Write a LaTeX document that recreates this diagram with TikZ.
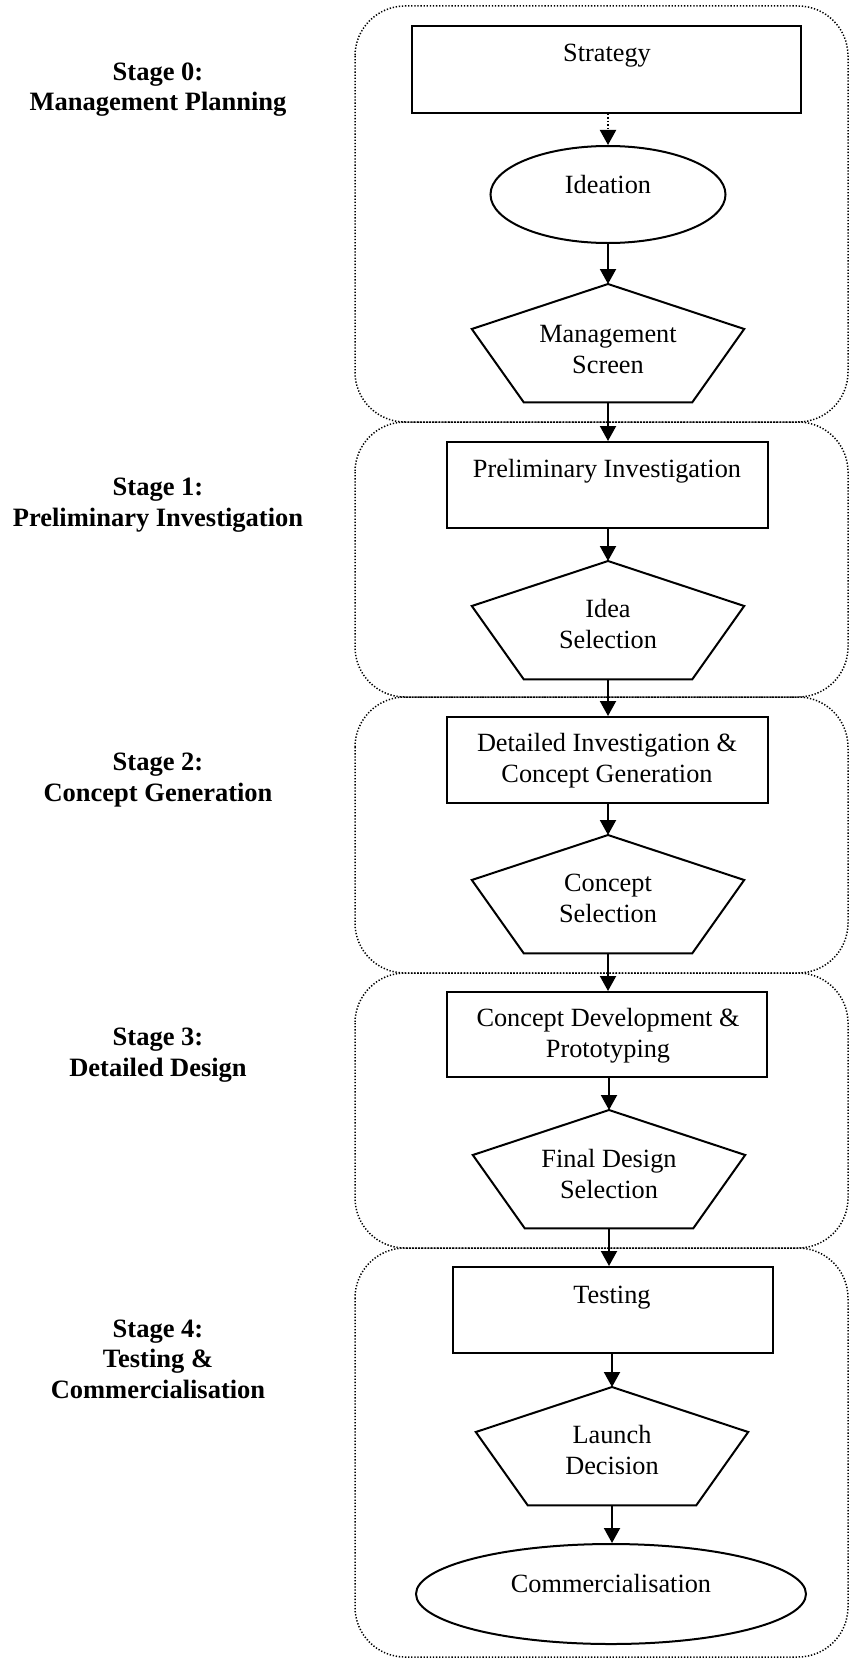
\documentclass[tikz,border=0pt]{standalone}
\usepackage{fontspec}
\setmainfont{Liberation Serif}
\usetikzlibrary{arrows.meta,shapes.geometric,calc}

\tikzset{
  stagebox/.style={draw=black, line width=1.5pt, dash pattern=on 1.3pt off 1.8pt, rounded corners=50pt},
  stepbox/.style={draw, line width=2pt, rectangle, inner sep=0pt},
  roundbox/.style={draw, line width=2pt, ellipse, inner sep=0pt},
  gatebox/.style={rectangle, inner sep=0pt, minimum width=272pt, minimum height=118pt},
  gateline/.style={line width=2pt, line join=miter},
  txt/.style={anchor=base, align=center, inner sep=0pt, font=\fontsize{26.3}{30.8}\selectfont},
  stagetxt/.style={anchor=base, align=center, inner sep=0pt, font=\fontsize{26.5}{30.3}\selectfont\bfseries},
  flow/.style={line width=2pt, -{Triangle[length=15pt,width=16pt]}},
  flowdot/.style={flow, dash pattern=on 1.5pt off 2pt},
}

% decision gate: a pentagon hanging from its top vertex
\newcommand{\gatenode}[3]{%
  \node[gatebox, anchor=north] (#1) at (#2,#3) {};
  \draw[gateline] (#1.north) -- ([yshift=-45pt]#1.north east)
    -- ([xshift=-52pt]#1.south east) -- ([xshift=52pt]#1.south west)
    -- ([yshift=-45pt]#1.north west) -- cycle;
}

\begin{document}
\begin{tikzpicture}[x=1pt,y=-1pt]
\useasboundingbox (0,0) rectangle (850,1659);
\fill[white] (0,0) rectangle (850,1659);

% stage frames
\draw[stagebox] (355,6) rectangle (848,422);
\draw[stagebox] (355,422) rectangle (848,697);
\draw[stagebox] (355,697) rectangle (848,973);
\draw[stagebox] (355,973) rectangle (848,1248);
\draw[stagebox] (355,1248) rectangle (848,1657);

% stage titles (anchored at the baseline of their last line)
\node[stagetxt] (t0) at (158,111) {Stage 0:\\Management Planning};
\node[stagetxt] (t1) at (158,526) {Stage 1:\\Preliminary Investigation};
\node[stagetxt] (t2) at (158,801) {Stage 2:\\Concept Generation};
\node[stagetxt] (t3) at (158,1076) {Stage 3:\\Detailed Design};
\node[stagetxt] (t4) at (158,1398) {Stage 4:\\Testing \&\\Commercialisation};

% stage 0
\node[stepbox, minimum width=389pt, minimum height=87pt] (strat) at (606,69.5) {};
\node[txt] (stratT) at (607,62) {Strategy};
\node[roundbox, minimum width=235pt, minimum height=97pt] (idea) at (608,194.5) {};
\node[txt] (ideaT) at (608,193) {Ideation};
\gatenode{ms}{608}{284}
\node[txt] (msT) at (608,373.5) {Management\\Screen};

% stage 1
\node[stepbox, minimum width=321pt, minimum height=86pt] (prel) at (607,485) {};
\node[txt] (prelT) at (607,477.5) {Preliminary Investigation};
\gatenode{isel}{608}{561}
\node[txt] (iselT) at (608,648) {Idea\\Selection};

% stage 2
\node[stepbox, minimum width=321pt, minimum height=86pt] (det) at (607,760) {};
\node[txt] (detT) at (607,782) {Detailed Investigation \&\\Concept Generation};
\gatenode{csel}{608}{835}
\node[txt] (cselT) at (608,922.5) {Concept\\Selection};

% stage 3
\node[stepbox, minimum width=320pt, minimum height=85pt] (cdev) at (607,1034.5) {};
\node[txt] (cdevT) at (608,1057.5) {Concept Development \&\\Prototyping};
\gatenode{fsel}{609}{1110}
\node[txt] (fselT) at (609,1198) {Final Design\\Selection};

% stage 4
\node[stepbox, minimum width=320pt, minimum height=86pt] (test) at (613,1310) {};
\node[txt] (testT) at (612,1303) {Testing};
\gatenode{ld}{612}{1387}
\node[txt] (ldT) at (612,1474.5) {Launch\\Decision};
\node[roundbox, minimum width=390pt, minimum height=100pt] (comm) at (611,1594) {};
\node[txt] (commT) at (611,1592) {Commercialisation};

% flow
\draw[flowdot] (strat.south -| idea.north) -- (idea.north);
\draw[flow] (idea.south) -- (ms.north);
\draw[flow] (ms.south) -- (ms.south |- prel.north);
\draw[flow] (prel.south -| isel.north) -- (isel.north);
\draw[flow] (isel.south) -- (isel.south |- det.north);
\draw[flow] (det.south -| csel.north) -- (csel.north);
\draw[flow] (csel.south) -- (csel.south |- cdev.north);
\draw[flow] (cdev.south -| fsel.north) -- (fsel.north);
\draw[flow] (fsel.south) -- (fsel.south |- test.north);
\draw[flow] (test.south -| ld.north) -- (ld.north);
\draw[flow] (ld.south) -- (ld.south |- comm.north);
\end{tikzpicture}
\end{document}
